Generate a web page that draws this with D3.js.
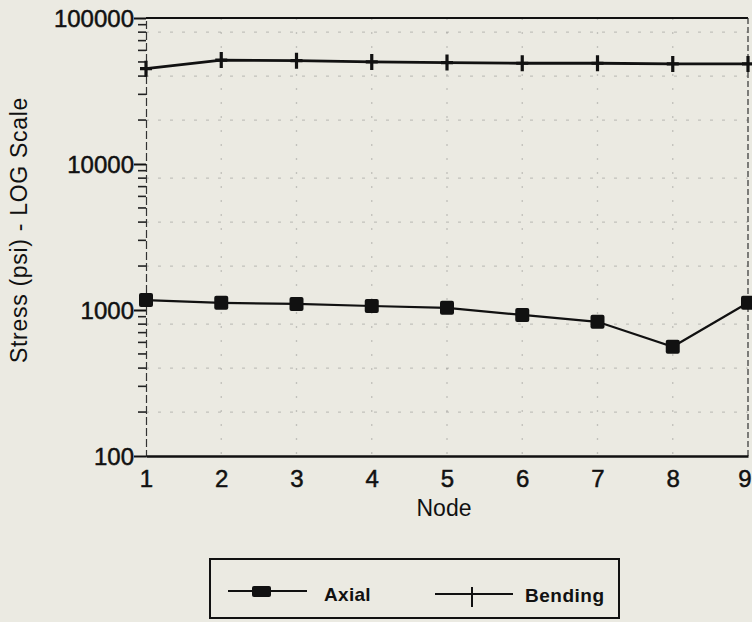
<!DOCTYPE html>
<html>
<head>
<meta charset="utf-8">
<script src="https://cdn.jsdelivr.net/npm/d3@7"></script>
<style>
  html, body { margin: 0; padding: 0; background: #ebeae2; }
  svg { display: block; }
  text { font-family: "Liberation Sans", Arial, sans-serif; fill: #111; }
</style>
</head>
<body>
<svg id="chart" width="752" height="622"></svg>
<script>
// Node numbers along the member
const nodes = [1, 2, 3, 4, 5, 6, 7, 8, 9];
// Stress at each node (psi)
const axial   = [1170, 1120, 1100, 1065, 1035, 925, 830, 560, 1120];
const bending = [45000, 51500, 51000, 50000, 49500, 49000, 49000, 48500, 48500];
// Axis tick labels
const yTicks = [100, 1000, 10000, 100000];
const seriesNames = ["Axial", "Bending"];

const svg = d3.select("#chart");
const margin = { left: 146, right: 748, top: 18, bottom: 456 };

const x = d3.scaleLinear().domain([1, 9]).range([margin.left, margin.right]);
const y = d3.scaleLog().domain([100, 100000]).range([margin.bottom, margin.top]);

// Minor log positions for ticks and faint grid
const minor = [];
for (let d = 100; d < 100000; d *= 10) {
  for (let m = 2; m <= 9; m++) minor.push(d * m);
}
const mantissa = v => Math.round(v / Math.pow(10, Math.floor(Math.log10(v) + 1e-9)));

// Faint dotted grid
const grid = svg.append("g").attr("stroke", "#555").attr("stroke-opacity", 0.28)
  .attr("stroke-width", 1.3);
grid.selectAll("line.v").data(nodes.slice(1, -1)).join("line")
  .attr("x1", d => x(d)).attr("x2", d => x(d))
  .attr("y1", margin.top).attr("y2", margin.bottom)
  .attr("stroke-dasharray", "2,12");
grid.selectAll("line.h").data(minor.filter(v => [2, 4, 8].includes(mantissa(v))))
  .join("line")
  .attr("x1", margin.left).attr("x2", margin.right)
  .attr("y1", d => y(d)).attr("y2", d => y(d))
  .attr("stroke-dasharray", "3,9");

// Frame: top and right borders
svg.append("line").attr("x1", margin.left).attr("x2", margin.right)
  .attr("y1", margin.top).attr("y2", margin.top)
  .attr("stroke", "#111").attr("stroke-width", 2);
svg.append("line").attr("x1", margin.right).attr("x2", margin.right)
  .attr("y1", margin.top).attr("y2", margin.bottom)
  .attr("stroke", "#333").attr("stroke-width", 1.2).attr("stroke-dasharray", "6,3");

// Y axis
const yAxis = d3.axisLeft(y).tickValues(yTicks).tickFormat(d3.format("d"))
  .tickSize(12).tickPadding(0);
const gy = svg.append("g").attr("transform", `translate(${margin.left},0)`).call(yAxis);
gy.select(".domain").attr("stroke", "#333").attr("stroke-width", 1.2)
  .attr("stroke-dasharray", "8,3");
gy.selectAll(".tick line").attr("stroke", "#111").attr("stroke-width", 2);
gy.selectAll(".tick text").attr("font-size", 24).attr("dy", "0.36em")
  .attr("stroke", "#111").attr("stroke-width", 0.5);
gy.selectAll("line.minor").data(minor).join("line").attr("class", "minor")
  .attr("x1", -8).attr("x2", 0)
  .attr("y1", d => y(d)).attr("y2", d => y(d))
  .attr("stroke", "#222").attr("stroke-width", 1.6);

// X axis
const xAxis = d3.axisBottom(x).tickValues(nodes).tickFormat(d3.format("d"))
  .tickSize(0).tickPadding(14);
const gx = svg.append("g").attr("transform", `translate(0,${margin.bottom})`).call(xAxis);
gx.select(".domain").attr("stroke", "#111").attr("stroke-width", 2.5);
gx.selectAll(".tick text").attr("font-size", 24)
  .attr("stroke", "#111").attr("stroke-width", 0.5);
gx.selectAll(".tick").filter(d => d === 9).select("text")
  .attr("text-anchor", "end").attr("x", 3);

// Axis titles
svg.append("text").attr("x", 444).attr("y", 516).attr("text-anchor", "middle")
  .attr("font-size", 23).text("Node");
svg.append("text").attr("transform", "translate(27,230) rotate(-90)")
  .attr("text-anchor", "middle").attr("font-size", 23)
  .style("letter-spacing", "0.7px")
  .text("Stress (psi) - LOG Scale");

// Series lines
const line = d3.line().x((d, i) => x(nodes[i])).y(d => y(d));
svg.append("path").datum(bending).attr("d", line)
  .attr("fill", "none").attr("stroke", "#111").attr("stroke-width", 2.8);
svg.append("path").datum(axial).attr("d", line)
  .attr("fill", "none").attr("stroke", "#111").attr("stroke-width", 2.2);

// Markers
const sq = 14;
svg.append("g").selectAll("rect").data(axial).join("rect")
  .attr("x", (d, i) => x(nodes[i]) - sq / 2).attr("y", d => y(d) - sq / 2)
  .attr("width", sq).attr("height", sq).attr("rx", 2).attr("fill", "#111");
const ph = 6, pv = 8;
svg.append("g").selectAll("path").data(bending).join("path")
  .attr("d", (d, i) => {
    const cx = x(nodes[i]), cy = y(d);
    return `M${cx - ph},${cy}H${cx + ph}M${cx},${cy - pv}V${cy + pv}`;
  })
  .attr("stroke", "#111").attr("stroke-width", 3.2);

// Legend
const lg = svg.append("g");
lg.append("rect").attr("x", 210).attr("y", 559).attr("width", 409).attr("height", 59)
  .attr("fill", "none").attr("stroke", "#111").attr("stroke-width", 2);
lg.append("line").attr("x1", 228).attr("x2", 307).attr("y1", 591).attr("y2", 591)
  .attr("stroke", "#111").attr("stroke-width", 2);
lg.append("rect").attr("x", 252).attr("y", 586).attr("width", 19).attr("height", 11)
  .attr("rx", 2).attr("fill", "#111");
lg.append("text").attr("x", 324).attr("y", 601).attr("font-size", 19)
  .attr("font-weight", "bold").style("letter-spacing", "0.3px").text(seriesNames[0]);
lg.append("line").attr("x1", 435).attr("x2", 513).attr("y1", 594).attr("y2", 594)
  .attr("stroke", "#111").attr("stroke-width", 2);
lg.append("line").attr("x1", 472).attr("x2", 472).attr("y1", 587).attr("y2", 607)
  .attr("stroke", "#111").attr("stroke-width", 2);
lg.append("text").attr("x", 525).attr("y", 602).attr("font-size", 19)
  .attr("font-weight", "bold").style("letter-spacing", "0.5px").text(seriesNames[1]);
</script>
</body>
</html>
